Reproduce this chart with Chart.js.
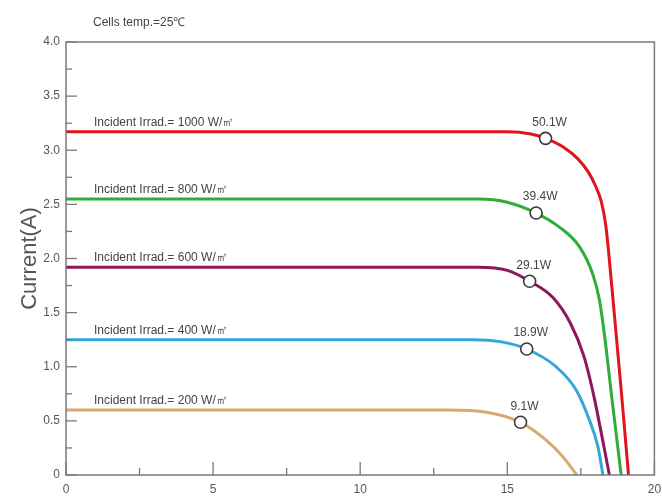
<!DOCTYPE html>
<html>
<head>
<meta charset="utf-8">
<script src="https://cdn.jsdelivr.net/npm/chart.js@4.4.1/dist/chart.umd.min.js"></script>
<style>
  html, body { margin: 0; padding: 0; background: #fff; }
  #wrap { width: 662px; height: 496px; position: relative; }
</style>
</head>
<body>
<div id="wrap"><canvas id="ivChart"></canvas></div>
<script>
// I-V curves at 25C for five irradiance levels
const irradLabels = ['Incident Irrad.= 1000 W/㎡', 'Incident Irrad.= 800 W/㎡', 'Incident Irrad.= 600 W/㎡', 'Incident Irrad.= 400 W/㎡', 'Incident Irrad.= 200 W/㎡'];
const powerLabels = ['50.1W', '39.4W', '29.1W', '18.9W', '9.1W'];
const lineColors = ['#e3131b', '#2fac3a', '#8e1560', '#34a6dc', '#d7aa6c'];

const voltage1000 = [0, 15.0, 15.8, 16.3, 16.9, 17.4, 17.75, 18.0, 18.2, 18.35, 18.55, 18.85, 19.12];
const current1000 = [3.17, 3.17, 3.15, 3.11, 3.03, 2.92, 2.80, 2.67, 2.52, 2.30, 1.75, 0.85, 0];
const voltage800 = [0, 14.0, 15.0, 15.98, 16.77, 17.45, 17.9, 18.13, 18.3, 18.55, 18.87];
const current800 = [2.55, 2.55, 2.52, 2.42, 2.29, 2.11, 1.86, 1.62, 1.30, 0.72, 0];
const voltage600 = [0, 14.0, 15.0, 15.76, 16.55, 17.15, 17.6, 17.95, 18.2, 18.47];
const current600 = [1.92, 1.92, 1.89, 1.79, 1.64, 1.40, 1.10, 0.72, 0.38, 0];
const voltage400 = [0, 13.8, 14.8, 15.66, 16.66, 17.34, 17.79, 18.08, 18.25];
const current400 = [1.25, 1.25, 1.23, 1.164, 1.0, 0.785, 0.508, 0.262, 0];
const voltage200 = [0, 13.0, 14.3, 15.45, 16.32, 16.89, 17.36];
const current200 = [0.60, 0.60, 0.58, 0.487, 0.323, 0.169, 0];

// maximum power points
const mppVoltage = [16.3, 15.98, 15.76, 15.66, 15.45];
const mppCurrent = [3.11, 2.42, 1.79, 1.164, 0.487];

const xTicks = [0, 5, 10, 15, 20];
const yTicks = [0, 0.5, 1.0, 1.5, 2.0, 2.5, 3.0, 3.5, 4.0];
const yTickLabels = ['0', '0.5', '1.0', '1.5', '2.0', '2.5', '3.0', '3.5', '4.0'];

const curves = [
    [voltage1000, current1000],
    [voltage800, current800],
    [voltage600, current600],
    [voltage400, current400],
    [voltage200, current200]
];

const toPoints = (xs, ys) => xs.map((x, i) => ({ x, y: ys[i] }));

const datasets = curves.map((c, i) => ({
    data: toPoints(c[0], c[1]),
    showLine: true,
    borderColor: lineColors[i],
    borderWidth: 3,
    pointRadius: 0,
    cubicInterpolationMode: 'monotone',
    fill: false,
    order: 1
}));

datasets.push({
    data: toPoints(mppVoltage, mppCurrent),
    showLine: false,
    pointRadius: 6,
    pointBackgroundColor: '#fff',
    pointBorderColor: '#3a3a3a',
    pointBorderWidth: 1.6,
    order: 0
});

const textColor = '#555';
const axisColor = '#7a7a7a';
const fontFamily = '"Liberation Sans", Arial, sans-serif';

// inward ticks, box, and text labels
const decorPlugin = {
    id: 'decor',
    afterDraw(chart) {
        const ctx = chart.ctx;
        const xs = chart.scales.x, ys = chart.scales.y;
        const a = chart.chartArea;
        ctx.save();
        ctx.strokeStyle = axisColor;
        ctx.lineWidth = 1.5;
        ctx.strokeRect(a.left, a.top, a.right - a.left, a.bottom - a.top);

        ctx.lineWidth = 1.3;
        for (let v = 0; v <= 4.0001; v += 0.25) {
            const py = ys.getPixelForValue(v);
            const len = Math.abs(v * 2 - Math.round(v * 2)) < 0.01 ? 11 : 6;
            ctx.beginPath();
            ctx.moveTo(a.left, py);
            ctx.lineTo(a.left + len, py);
            ctx.stroke();
        }
        for (let v = 0; v <= 20.001; v += 2.5) {
            const px = xs.getPixelForValue(v);
            const len = v % 5 === 0 ? 13 : 7;
            ctx.beginPath();
            ctx.moveTo(px, a.bottom);
            ctx.lineTo(px, a.bottom - len);
            ctx.stroke();
        }

        ctx.fillStyle = '#444';
        ctx.font = '12px ' + fontFamily;
        ctx.textBaseline = 'bottom';
        ctx.textAlign = 'left';
        ctx.fillText('Cells temp.=25℃', 93, 29);

        curves.forEach((c, i) => {
            const py = ys.getPixelForValue(c[1][0]);
            ctx.textAlign = 'left';
            ctx.fillText(irradLabels[i], 94, py - 3);
            const mx = xs.getPixelForValue(mppVoltage[i]);
            const my = ys.getPixelForValue(mppCurrent[i]);
            ctx.textAlign = 'center';
            ctx.fillText(powerLabels[i], mx + 4, my - 10);
        });
        ctx.restore();
    }
};

new Chart(document.getElementById('ivChart'), {
    type: 'scatter',
    data: { datasets },
    options: {
        responsive: true,
        maintainAspectRatio: false,
        animation: false,
        layout: { padding: { top: 42, right: 7, left: 0, bottom: 0 } },
        plugins: { legend: { display: false }, tooltip: { enabled: false } },
        scales: {
            x: {
                type: 'linear',
                min: 0,
                max: 20,
                afterBuildTicks: (scale) => { scale.ticks = xTicks.map(v => ({ value: v })); },
                afterFit: (scale) => { scale.height = 21; scale.paddingLeft = 0; scale.paddingRight = 0; },
                grid: { display: false, drawTicks: false },
                border: { display: false },
                ticks: { color: textColor, padding: 7, font: { size: 12, family: fontFamily } }
            },
            y: {
                min: 0,
                max: 4,
                afterBuildTicks: (scale) => { scale.ticks = yTicks.map(v => ({ value: v })); },
                afterFit: (scale) => { scale.width = 66; scale.paddingTop = 0; scale.paddingBottom = 0; },
                grid: { display: false, drawTicks: false },
                border: { display: false },
                title: { display: true, text: 'Current(A)', color: textColor, padding: { top: 17, bottom: 0 }, font: { size: 22, family: fontFamily } },
                ticks: {
                    color: textColor,
                    padding: 6,
                    font: { size: 12, family: fontFamily },
                    callback: (v) => yTickLabels[yTicks.indexOf(v)] ?? ''
                }
            }
        }
    },
    plugins: [decorPlugin]
});
</script>
</body>
</html>
